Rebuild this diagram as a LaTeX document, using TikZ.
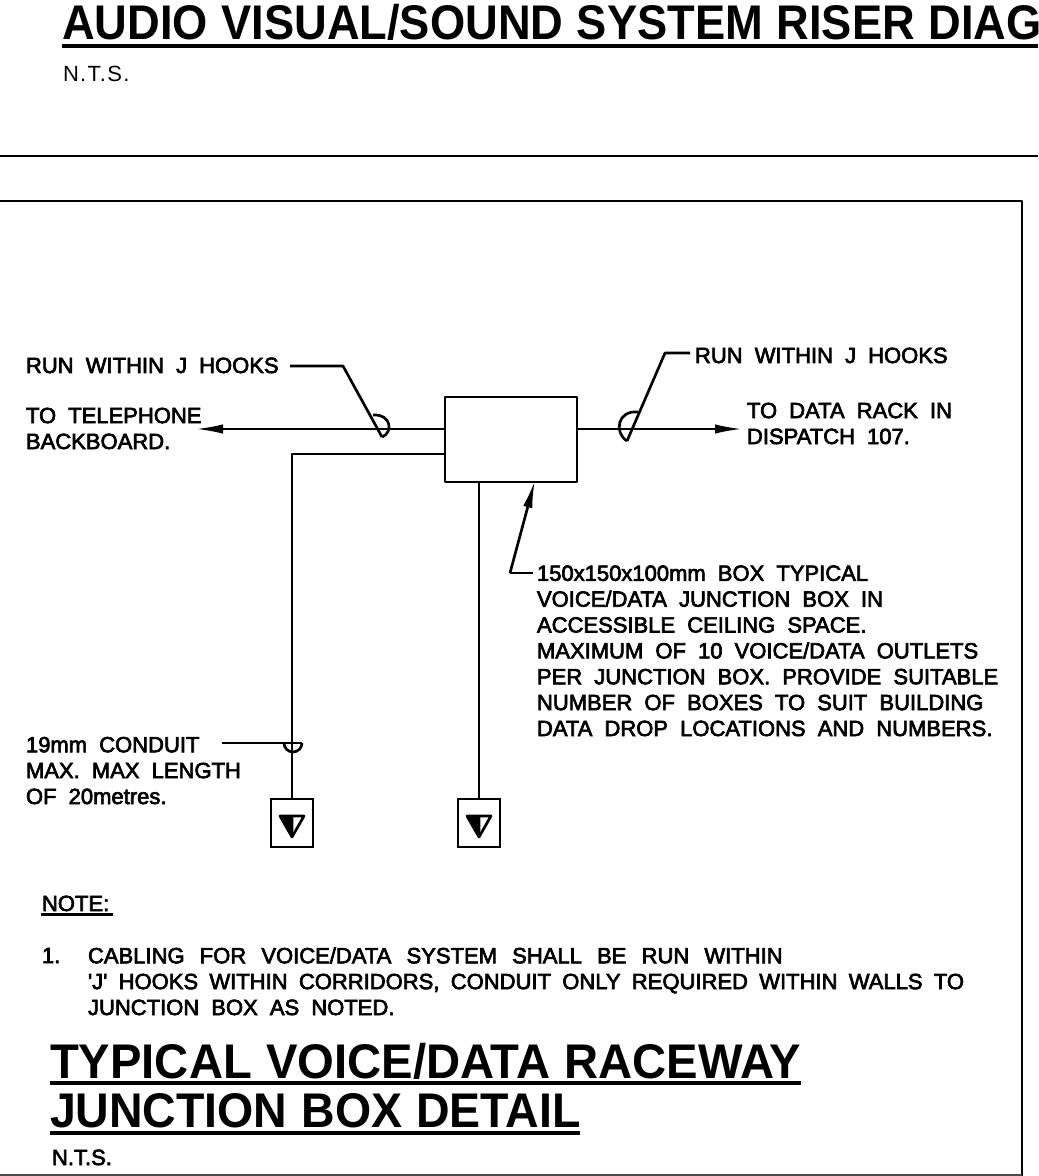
\documentclass[tikz,border=0pt]{standalone}
\usepackage{fontspec}
\usepackage{graphicx}
\setmainfont{Liberation Sans}
\newfontfamily\cadbody[FakeBold=3]{Liberation Sans}
\newfontfamily\cadtitle{Liberation Sans Bold}
\newfontfamily\cadthin[LetterSpace=6]{Liberation Sans}
\newcommand{\cadfont}[2]{\cadbody\fontsize{#1}{#2}\selectfont\spaceskip=0.55em\relax}
\newcommand{\cadbig}{\cadtitle\fontsize{36.5}{42}\selectfont\spaceskip=0.3em\relax}
\newcommand{\cadnts}{\cadthin\fontsize{16.5}{20}\selectfont}
\newcommand{\fitline}[2]{\hbox to #1{\spaceskip=0.3em plus 1fil\relax #2}}
\usetikzlibrary{arrows.meta}
\tikzset{
  x=0.75pt,y=-0.75pt,
  line/.style={draw=black,line width=2pt,line join=round},
  tip/.style={-{Latex[length=21pt,width=7pt]}},
  txt/.style={anchor=base west,align=left,inner sep=0pt,outer sep=0pt,font=\cadfont{16.5}{19.4}},
  title/.style={anchor=base west,inner sep=0pt,outer sep=0pt,font=\cadbig},
  thinsmall/.style={anchor=base west,inner sep=0pt,outer sep=0pt,font=\cadnts},
  outletbox/.style={draw=black,line width=2pt,minimum width=31.5pt,minimum height=36pt,inner sep=0pt,outer sep=0pt}
}
\begin{document}
\begin{tikzpicture}
\useasboundingbox (0,0) rectangle (1038,1176);
\fill[white] (0,0) rectangle (1038,1176);
% title top
\node[title] (t1) at (62,40) {\scalebox{0.93}[1]{AUDIO VISUAL/SOUND SYSTEM RISER DIAG}};
\draw[line,line width=2.6pt] (62,46) -- (1038,46);
\node[thinsmall] (nts1) at (63,82) {N.T.S.};
\draw[line] (0,156) -- (1038,156);
% frame
\draw[line] (0,201) -- (1022,201) -- (1022,1176);
\draw[draw=black!70,line width=1.4pt] (0,1175) -- (1022,1175);
% junction box
\node[line,draw,minimum width=99pt,minimum height=63.75pt,inner sep=0pt,outer sep=0pt,anchor=north west] (box) at (445,397) {};
\coordinate (la) at (445,429);
\coordinate (lb) at (445,454);
\coordinate (ld) at (479,482);
\coordinate (re) at (577,429);
\coordinate (tel) at (195,429);
\coordinate (rack) at (743,429);
\draw[line,tip] (la) -- (tel);
\draw[line,tip] (re) -- (rack);
% outlets
\node[outletbox,anchor=north] (o1) at (292,799) {};
\node[outletbox,anchor=north] (o2) at (479,799) {};
\draw[line] (lb) -- (292,454) -- (o1.north);
\draw[line] (ld) -- (o2.north);
\foreach \n in {o1,o2}{
  \draw[line,fill=black] ([shift={(-12,-7)}]\n.center) -- ([shift={(0,-7)}]\n.center) -- ([shift={(0,14)}]\n.center) -- cycle;
  \draw[line] ([shift={(0,-7)}]\n.center) -- ([shift={(12,-7)}]\n.center) -- ([shift={(0,14)}]\n.center);
}
% left J hook
\node[txt] (a1) at (26,373) {RUN WITHIN J HOOKS};
\coordinate (a1e) at (290,366);
\coordinate (a1k) at (343,366);
\coordinate (a1t) at (382,437);
\draw[line] (a1e) -- (a1k) -- (a1t);
\draw[line] (a1t) .. controls (393,433) and (392,414) .. (373,415);
% right J hook
\node[txt] (a2) at (695,363) {RUN WITHIN J HOOKS};
\coordinate (a2e) at (690,353);
\coordinate (a2k) at (665,353);
\coordinate (a2t) at (627,441);
\draw[line] (a2e) -- (a2k) -- (a2t);
\draw[line] (a2t) .. controls (614,433) and (617,410) .. (638,412);
% text (multi-line nodes are placed by the baseline of their last line)
\node[txt] (tel1) at (26,449) {TO TELEPHONE\\BACKBOARD.};
\node[txt] (rack1) at (747,444) {TO DATA RACK IN\\DISPATCH 107.};
% box note
\node[txt] (note) at (537,736) {150x150x100mm BOX TYPICAL\\VOICE/DATA JUNCTION BOX IN\\ACCESSIBLE CEILING SPACE.\\MAXIMUM OF 10 VOICE/DATA OUTLETS\\PER JUNCTION BOX. PROVIDE SUITABLE\\NUMBER OF BOXES TO SUIT BUILDING\\DATA DROP LOCATIONS AND NUMBERS.};
\coordinate (n1) at (533,573);
\coordinate (n2) at (510,573);
\coordinate (n3) at (535,480);
\draw[line] (n1) -- (n2);
\draw[line,tip] (n2) -- (n3);
% conduit
\node[txt] (c1) at (26,804) {19mm CONDUIT\\MAX. MAX LENGTH\\OF 20metres.};
\coordinate (c1e) at (222,743);
\coordinate (c1a) at (284,743);
\coordinate (c1b) at (302,743);
\draw[line] (c1e) -- (c1b);
\draw[line] (c1a) arc (180:0:9);
% notes
\node[txt] (nh) at (42,911) {NOTE:};
\draw[line] (41,914.5) -- (113,914.5);
\node[txt] (n1t) at (42,963) {1.};
\node[txt] (n2t) at (88,1015) {\fitline{521pt}{CABLING FOR VOICE/DATA SYSTEM SHALL BE RUN WITHIN}\\\fitline{657pt}{'J' HOOKS WITHIN CORRIDORS, CONDUIT ONLY REQUIRED WITHIN WALLS TO}\\JUNCTION BOX AS NOTED.};
% bottom title
\node[title] (t2) at (50,1078) {\scalebox{0.97}[1]{TYPICAL VOICE/DATA RACEWAY}};
\draw[line,line width=2.6pt] (50,1083) -- (801,1083);
\node[title] (t3) at (50,1127) {\scalebox{0.955}[1]{JUNCTION BOX DETAIL}};
\draw[line,line width=2.6pt] (50,1133) -- (580,1133);
\node[txt] (nts2) at (52,1165) {N.T.S.};
\end{tikzpicture}
\end{document}
